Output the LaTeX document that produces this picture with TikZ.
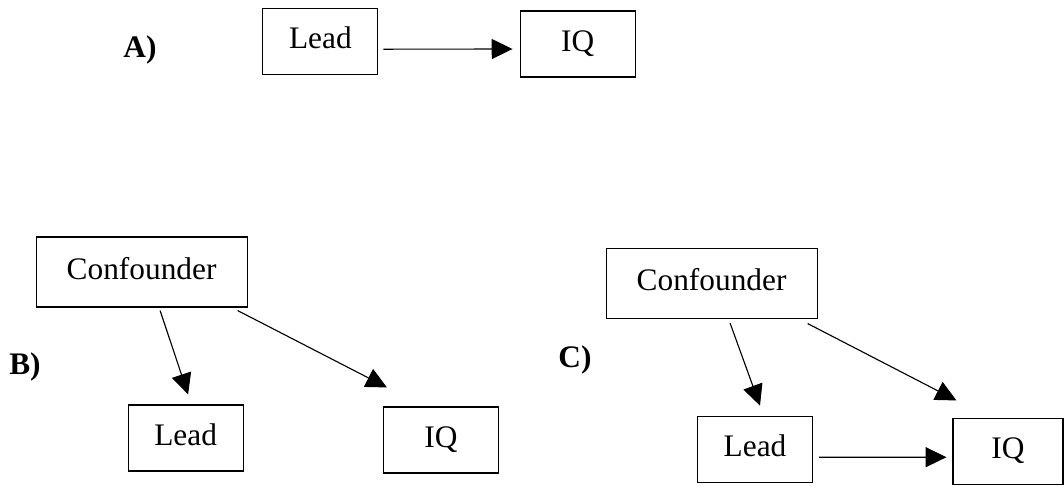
\documentclass[tikz,border=0pt]{standalone}
\usepackage{fontspec}
\setmainfont{Liberation Serif}
\usepackage{tikz}
\usetikzlibrary{arrows.meta}

\begin{document}
\begin{tikzpicture}
        [line width=0.8pt,
        every node/.style={font=\fontsize{22.3}{26}\selectfont},
        box/.style={draw,rectangle,inner sep=0pt,minimum width=2.875cm,minimum height=1.65cm,text height=0.6cm,text depth=0.25cm},
        bigbox/.style={box,minimum width=5.275cm,minimum height=1.75cm},
        lbl/.style={font=\fontsize{22.3}{26}\selectfont\bfseries},
        arr/.style={-{Triangle[length=0.52cm,width=0.5cm]}}]
        \useasboundingbox (0,0) rectangle (26.6,-12.175);

        % A)
        \node[lbl] (labA) at (3.5,-1.25) {A)};
        \node[box] (leadA) at (8.01,-1.04) {Lead};
        \node[box] (iqA) at (14.44,-1.1) {IQ};

        % B)
        \node[lbl] (labB) at (0.625,-9.175) {B)};
        \node[bigbox] (confB) at (3.54,-6.8) {Confounder};
        \node[box] (leadB) at (4.64,-10.95) {Lead};
        \node[box] (iqB) at (11.025,-11.0) {IQ};

        % C)
        \node[lbl] (labC) at (14.375,-9.0) {C)};
        \node[bigbox] (confC) at (17.79,-7.09) {Confounder};
        \node[box] (leadC) at (18.875,-11.24) {Lead};
        \node[box,minimum width=2.75cm] (iqC) at (25.2,-11.29) {IQ};

        \path [arr] ([xshift=0.125cm,yshift=-0.19cm]leadA.east) edge ([xshift=-0.175cm,yshift=-0.125cm]iqA.west);

        \path [arr] ([xshift=0.4625cm,yshift=-0.075cm]confB.south) edge ([xshift=0.0625cm,yshift=0.25cm]leadB.north);
        \path [arr] ([xshift=-0.25cm,yshift=-0.075cm]confB.south east) edge ([xshift=0.1cm,yshift=0.475cm]iqB.north west);

        \path [arr] ([xshift=0.4625cm,yshift=-0.1cm]confC.south) edge ([xshift=0.125cm,yshift=0.26cm]leadC.north);
        \path [arr] ([xshift=-0.25cm,yshift=-0.11cm]confC.south east) edge ([xshift=0.1cm,yshift=0.44cm]iqC.north west);
        \path [arr] ([xshift=0.15cm,yshift=-0.19cm]leadC.east) edge ([xshift=-0.15cm,yshift=-0.14cm]iqC.west);
    \end{tikzpicture}
\end{document}
